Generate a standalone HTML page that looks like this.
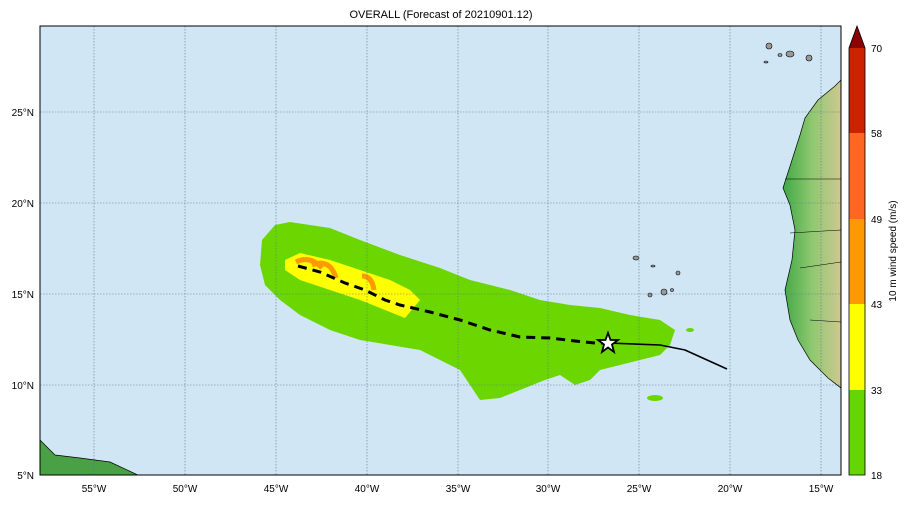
<!DOCTYPE html><html><head><style>body{margin:0;background:#fff}svg text{font-family:"Liberation Sans",sans-serif;font-size:10px}</style></head><body>
<svg width="909" height="502" xmlns="http://www.w3.org/2000/svg">
<text x="441" y="18" text-anchor="middle" style="font-size:11px">OVERALL (Forecast of 20210901.12)</text>
<defs><linearGradient id="af" x1="0" x2="1"><stop offset="0" stop-color="#3fa845"/><stop offset="0.5" stop-color="#8fc870"/><stop offset="1" stop-color="#cfc890"/></linearGradient>
<clipPath id="c"><rect x="40" y="26" width="801" height="449"/></clipPath></defs>
<rect x="40" y="26" width="801" height="449" fill="#d0e6f4"/>
<g clip-path="url(#c)">
<polygon points="841,80 835,86 818,100 805,118 800,135 792,160 783,188 790,205 795,230 792,260 785,290 790,320 798,340 810,360 828,378 841,388" fill="url(#af)" stroke="#000" stroke-width="0.7"/>
<polygon points="40,440 55,455 80,458 110,462 140,476 40,476" fill="#4aa044" stroke="#000" stroke-width="0.7"/>
<path d="M785,179H841M790,233L841,230M800,268L841,262M810,320L841,322" stroke="#000" stroke-width="0.6" fill="none"/>
<g fill="#999" stroke="#000" stroke-width="0.6"><ellipse cx="769" cy="46" rx="3" ry="3"/><ellipse cx="790" cy="54" rx="4" ry="3"/><ellipse cx="809" cy="58" rx="3" ry="3"/><ellipse cx="780" cy="55" rx="2" ry="1.5"/><ellipse cx="766" cy="62" rx="2" ry="1"/><ellipse cx="636" cy="258" rx="3" ry="2"/><ellipse cx="653" cy="266" rx="2" ry="1"/><ellipse cx="678" cy="273" rx="2" ry="2"/><ellipse cx="664" cy="292" rx="3" ry="3"/><ellipse cx="650" cy="295" rx="2" ry="2"/><ellipse cx="672" cy="290" rx="1.5" ry="1.5"/></g>
<polygon points="262,240 275,225 290,222 330,228 360,240 400,255 440,268 470,280 510,290 540,300 570,305 600,308 630,315 660,320 675,330 670,345 660,355 640,360 620,365 600,370 590,380 575,385 560,375 545,380 520,390 500,398 480,400 470,385 460,370 440,360 420,350 390,345 360,340 330,330 300,315 280,300 265,285 260,265" fill="#6cd600"/>
<g fill="#6cd600"><ellipse cx="655" cy="398" rx="8" ry="3"/><ellipse cx="690" cy="330" rx="4" ry="2"/></g>
<polygon points="285,260 300,253 330,260 360,270 390,280 410,290 420,300 405,318 385,310 360,300 330,290 300,280 285,270" fill="#ffff00"/>
<g fill="none" stroke="#ff9900" stroke-width="5"><path d="M296,262 Q310,255 322,268"/><path d="M312,265 Q330,258 336,278"/><path d="M362,276 Q372,276 374,290"/></g>
<g stroke="#5a7a99" stroke-width="0.6" stroke-dasharray="1.5,1.5" fill="none"><path d="M94,26V475M185,26V475M276,26V475M367,26V475M458,26V475M548,26V475M639,26V475M730,26V475M821,26V475M40,112H841M40,203H841M40,294H841M40,385H841"/></g>
<polyline points="298,266 320,272 345,283 365,290 385,300 400,305 430,312 460,320 490,330 520,337 550,338 575,341 595,343 608,343" fill="none" stroke="#000" stroke-width="3" stroke-dasharray="9,6"/>
<polyline points="608,343 660,345 685,350 727,369" fill="none" stroke="#000" stroke-width="1.6"/>
<polygon points="608,333 610.5,340 618,340 612,344.5 614,352 608,347.5 602,352 604,344.5 598,340 605.5,340" fill="#fff" stroke="#000" stroke-width="1.8"/>
</g>
<rect x="40" y="26" width="801" height="449" fill="none" stroke="#000" stroke-width="1"/>
<g text-anchor="middle"><text x="94" y="492">55°W</text><text x="185" y="492">50°W</text><text x="276" y="492">45°W</text><text x="367" y="492">40°W</text><text x="458" y="492">35°W</text><text x="548" y="492">30°W</text><text x="639" y="492">25°W</text><text x="730" y="492">20°W</text><text x="821" y="492">15°W</text></g>
<g text-anchor="end"><text x="34" y="116">25°N</text><text x="34" y="207">20°N</text><text x="34" y="298">15°N</text><text x="34" y="389">10°N</text><text x="34" y="479">5°N</text></g>
<rect x="849" y="390" width="16" height="85" fill="#66d600"/>
<rect x="849" y="304" width="16" height="86" fill="#ffff00"/>
<rect x="849" y="219" width="16" height="85" fill="#ff9900"/>
<rect x="849" y="133" width="16" height="86" fill="#ff6622"/>
<rect x="849" y="48" width="16" height="85" fill="#cc2200"/>
<polygon points="849,48 857,26 865,48" fill="#8b0000"/>
<polygon points="849,475 849,48 857,26 865,48 865,475" fill="none" stroke="#000" stroke-width="0.8"/>
<g><text x="871" y="52">70</text><text x="871" y="137">58</text><text x="871" y="223">49</text><text x="871" y="308">43</text><text x="871" y="394">33</text><text x="871" y="479">18</text></g>
<text transform="translate(896,251) rotate(-90)" text-anchor="middle">10 m wind speed (m/s)</text>
</svg></body></html>
